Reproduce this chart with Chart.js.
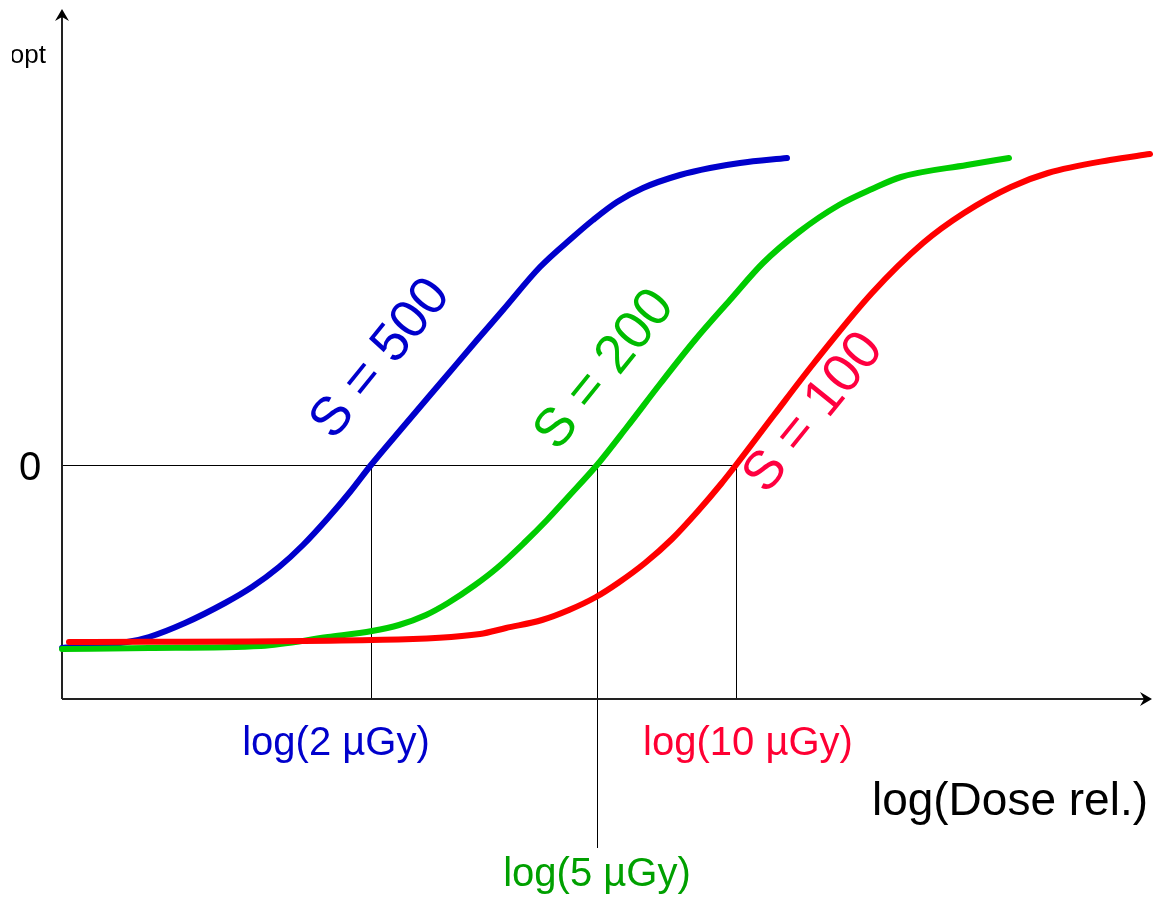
<!DOCTYPE html>
<html>
<head>
<meta charset="utf-8">
<script src="https://cdn.jsdelivr.net/npm/chart.js@4/dist/chart.umd.min.js"></script>
<style>
  html, body { margin: 0; padding: 0; background: #fff; }
  #wrap { width: 1153px; height: 904px; position: relative; }
</style>
</head>
<body>
<div id="wrap"><canvas id="chart"></canvas></div>
<script>
// curvas de sensibilidade (x = log dose, y = densidade optica relativa)
const blueX  = [0.00, 0.65, 0.87, 1.23, 1.63, 1.90, 2.17, 2.41, 2.66, 2.88, 3.09, 3.41, 3.81, 4.15, 4.41, 4.78, 5.11, 5.31, 5.55, 5.81, 6.18, 6.48, 6.78, 7.25];
const blueY  = [-1.83, -1.77, -1.72, -1.58, -1.38, -1.22, -1.02, -0.80, -0.53, -0.27, 0.00, 0.38, 0.85, 1.25, 1.55, 1.98, 2.28, 2.45, 2.63, 2.77, 2.90, 2.97, 3.02, 3.07];
const greenX = [0.00, 0.87, 1.99, 2.66, 3.10, 3.37, 3.64, 3.86, 4.13, 4.35, 4.62, 4.85, 5.07, 5.35, 5.65, 5.98, 6.33, 6.68, 7.01, 7.37, 7.77, 8.10, 8.39, 9.05, 9.47];
const greenY = [-1.84, -1.83, -1.81, -1.72, -1.66, -1.60, -1.50, -1.38, -1.20, -1.03, -0.78, -0.55, -0.31, 0.00, 0.38, 0.81, 1.25, 1.65, 2.02, 2.33, 2.60, 2.76, 2.88, 3.00, 3.07];
const redX   = [0.07, 3.10, 4.18, 4.44, 4.80, 5.07, 5.34, 5.56, 5.83, 6.10, 6.36, 6.59, 6.74, 7.12, 7.52, 8.10, 8.61, 9.02, 9.49, 9.86, 10.48, 10.88];
const redY   = [-1.77, -1.75, -1.69, -1.63, -1.55, -1.45, -1.32, -1.18, -0.98, -0.74, -0.46, -0.19, 0.00, 0.50, 1.02, 1.72, 2.22, 2.52, 2.78, 2.92, 3.05, 3.11];

// rotulos
const curveLabels = ['S = 500', 'S = 200', 'S = 100'];
const doseLabels  = ['log(2 \u00b5Gy)', 'log(5 \u00b5Gy)', 'log(10 \u00b5Gy)'];
const doseValues  = [3.09, 5.35, 6.74];   // onde cada curva cruza o nivel 0
const xTitle = 'log(Dose rel.)';
const yTitle = 'opt';
const yZeroLabel = '0';

const xMin = 0, xMax = 10.88;
const yMin = -2.34, yMax = 4.55;

function pts(xs, ys) {
    return xs.map((x, i) => ({ x: x, y: ys[i] }));
}

// desenha uma ponta de seta (tip, direcao)
function arrowHead(ctx, x, y, dir) {
    ctx.save();
    ctx.translate(x, y);
    ctx.rotate(dir);
    ctx.beginPath();
    ctx.moveTo(0, 0);
    ctx.lineTo(-12, -7);
    ctx.lineTo(-8, 0);
    ctx.lineTo(-12, 7);
    ctx.closePath();
    ctx.fillStyle = '#000';
    ctx.fill();
    ctx.restore();
}

const decorPlugin = {
    id: 'decor',
    beforeDatasetsDraw(chart) {
        const ctx = chart.ctx;
        const xs = chart.scales.x, ys = chart.scales.y;
        const x0 = xs.getPixelForValue(xMin);
        const yBase = ys.getPixelForValue(yMin);
        const yZero = ys.getPixelForValue(0);
        ctx.save();
        // linhas guia
        ctx.strokeStyle = '#000';
        ctx.lineWidth = 1;
        ctx.beginPath();
        ctx.moveTo(x0, yZero + 0.5);
        ctx.lineTo(xs.getPixelForValue(doseValues[2]), yZero + 0.5);
        doseValues.forEach((d, i) => {
            const px = Math.round(xs.getPixelForValue(d)) + 0.5;
            ctx.moveTo(px, yZero);
            ctx.lineTo(px, i === 1 ? yBase + 149 : yBase);
        });
        ctx.stroke();
        // eixos
        ctx.strokeStyle = '#222';
        ctx.lineWidth = 2;
        ctx.beginPath();
        ctx.moveTo(x0, yBase);
        ctx.lineTo(x0, 12);
        ctx.moveTo(x0, yBase);
        ctx.lineTo(chart.width - 4, yBase);
        ctx.stroke();
        arrowHead(ctx, x0, 9, -Math.PI / 2);
        arrowHead(ctx, chart.width - 1, yBase, 0);
        ctx.restore();
    },
    afterDatasetsDraw(chart) {
        const ctx = chart.ctx;
        const xs = chart.scales.x, ys = chart.scales.y;
        const yBase = ys.getPixelForValue(yMin);
        ctx.save();
        ctx.textBaseline = 'alphabetic';
        ctx.font = '40px "Liberation Sans", Arial, sans-serif';

        // rotulos de dose
        const doseColors = ['#0000cc', '#00a000', '#ff0033'];
        const doseOffsets = [56, 187, 56];
        doseLabels.forEach((t, i) => {
            ctx.fillStyle = doseColors[i];
            ctx.textAlign = 'center';
            ctx.fillText(t, xs.getPixelForValue(doseValues[i]) + (i === 0 ? -35 : (i === 2 ? 12 : 0)), yBase + doseOffsets[i]);
        });

        // titulo do eixo x
        ctx.fillStyle = '#000';
        ctx.textAlign = 'right';
        ctx.font = '46px "Liberation Sans", Arial, sans-serif';
        ctx.fillText(xTitle, chart.width - 5, yBase + 116);

        // "0" no eixo y
        ctx.textAlign = 'center';
        ctx.font = '40px "Liberation Sans", Arial, sans-serif';
        ctx.fillText(yZeroLabel, 30, ys.getPixelForValue(0) + 15);

        // titulo do eixo y (cortado na borda)
        ctx.save();
        ctx.beginPath();
        ctx.rect(12, 0, 60, 100);
        ctx.clip();
        ctx.textAlign = 'right';
        ctx.font = '26px "Liberation Sans", Arial, sans-serif';
        ctx.fillText(yTitle, 46, 63);
        ctx.restore();

        // rotulos das curvas (rotacionados)
        const labelPos = [[3.19, 1.06], [5.43, 0.95], [7.52, 0.52]];
        const labelColors = ['#0000cc', '#00bb00', '#ff0040'];
        ctx.font = '54px "Liberation Sans", Arial, sans-serif';
        ctx.textAlign = 'center';
        ctx.textBaseline = 'middle';
        curveLabels.forEach((t, i) => {
            ctx.save();
            ctx.translate(xs.getPixelForValue(labelPos[i][0]), ys.getPixelForValue(labelPos[i][1]));
            ctx.rotate(-51 * Math.PI / 180);
            ctx.fillStyle = labelColors[i];
            ctx.fillText(t, 0, 0);
            ctx.restore();
        });
        ctx.restore();
    }
};

const ctx = document.getElementById('chart').getContext('2d');
new Chart(ctx, {
    type: 'line',
    data: {
        datasets: [
            { label: 'S = 100', data: pts(redX, redY), borderColor: '#ff0000', order: 0 },
            { label: 'S = 200', data: pts(greenX, greenY), borderColor: '#00cc00', order: 1 },
            { label: 'S = 500', data: pts(blueX, blueY), borderColor: '#0000cc', order: 2 }
        ]
    },
    options: {
        responsive: true,
        maintainAspectRatio: false,
        animation: false,
        layout: { padding: { left: 62, right: 3, top: 10, bottom: 205 } },
        elements: {
            line: { borderWidth: 6, cubicInterpolationMode: 'monotone', fill: false, borderCapStyle: 'round', borderJoinStyle: 'round' },
            point: { radius: 0 }
        },
        datasets: { line: { clip: false } },
        scales: {
            x: { type: 'linear', min: xMin, max: xMax, display: false },
            y: { type: 'linear', min: yMin, max: yMax, display: false }
        },
        plugins: {
            legend: { display: false },
            tooltip: { enabled: false }
        }
    },
    plugins: [decorPlugin]
});
</script>
</body>
</html>
